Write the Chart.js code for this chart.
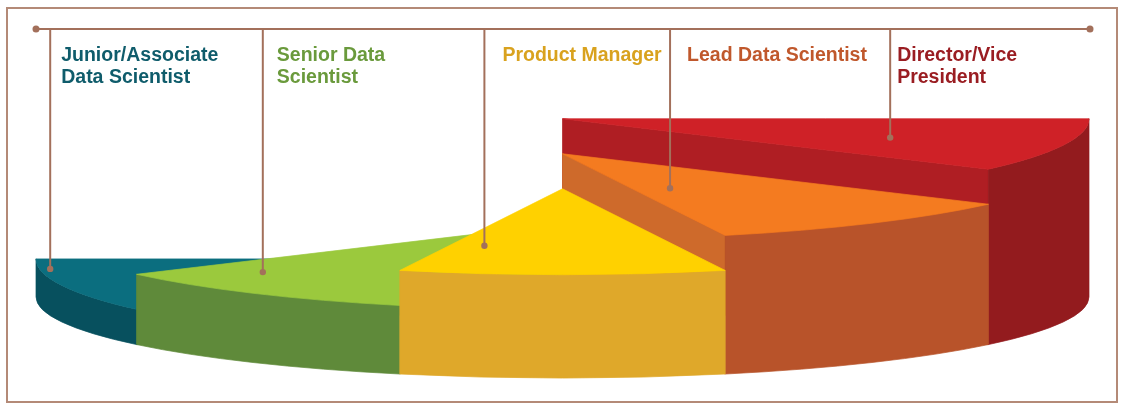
<!DOCTYPE html>
<html>
<head>
<meta charset="utf-8">
<script src="https://cdn.jsdelivr.net/npm/chart.js@4.4.1/dist/chart.umd.min.js"></script>
<style>
  html, body { margin: 0; padding: 0; background: #fff; }
  #wrap { position: relative; width: 1123px; height: 408px; }
  #frame { position: absolute; left: 6px; top: 7px; width: 1112px; height: 396px;
           border: 2px solid #B48A77; box-sizing: border-box; }
  #chart { position: absolute; left: 0; top: 0; }
</style>
</head>
<body>
<div id="wrap">
  <div id="frame"></div>
  <canvas id="chart" width="1123" height="408"></canvas>
</div>
<script>
// ── Data ─────────────────────────────────────────────────────────────
const roles = ['Junior/Associate Data Scientist', 'Senior Data Scientist', 'Product Manager', 'Lead Data Scientist', 'Director/Vice President'];
const labelLines = [['Junior/Associate', 'Data Scientist'], ['Senior Data', 'Scientist'], ['Product Manager'], ['Lead Data Scientist'], ['Director/Vice', 'President']];
const shares = [20, 20, 20, 20, 20];        // equal slices
const levels = [38, 73, 108, 143, 178];     // extrusion height of each slice

// ── Style ────────────────────────────────────────────────────────────
const topColors  = ['#0B6E7F', '#9BC93D', '#FFD100', '#F47B20', '#CF2127'];
const wallColors = ['#07505E', '#5F8A3A', '#DFA82A', '#B8532A', '#931B1E'];
const faceColors = ['#095E6C', '#7FA83A', '#E9B81A', '#CE6A2B', '#AF1E23'];
const textColors = ['#0F5C6B', '#6A9A3C', '#D9A21E', '#C0582C', '#9A1D22'];
const LINE = '#A3705B';

// leader anchor on each top face: t = position across slice, f = radius fraction
const anchors = [{ t: 0.19, f: 0.98 }, { t: 0.24, f: 0.80 }, { t: 0.15, f: 0.68 }, { t: 0.25, f: 0.45 }, { t: 0.46, f: 0.66 }];
const textGap = [11, 14, 18, 17, 7];

let geom = null;

// ── 3D extrusion drawn from the pie's own arc angles ─────────────────
const pie3d = {
  id: 'pie3d',
  afterDatasetsDraw(chart) {
    const { ctx, chartArea: a } = chart;
    const arcs = chart.getDatasetMeta(0).data;
    const cx = (a.left + a.right) / 2, R = (a.right - a.left) / 2;
    const ryB = R * 0.154, ryT = R * 0.163;
    const cyB = a.bottom - ryB;
    const px = R / 526;

    const g = arcs.map((arc, i) => ({ i, p0: -arc.startAngle, p1: -arc.endAngle, top: cyB - levels[i] * px }));
    const dist = s => Math.abs((s.p0 + s.p1) / 2 - Math.PI / 2);
    const order = g.slice().sort((u, v) => dist(v) - dist(u));

    const paint = (col, build) => {
      ctx.beginPath(); build(); ctx.closePath();
      ctx.fillStyle = col; ctx.fill();
      ctx.strokeStyle = col; ctx.lineWidth = 0.7; ctx.stroke();
    };
    const face = (s, p) => paint(faceColors[s.i], () => {
      ctx.moveTo(cx, s.top);
      ctx.lineTo(cx + R * Math.cos(p), s.top + ryT * Math.sin(p));
      ctx.lineTo(cx + R * Math.cos(p), cyB + ryB * Math.sin(p));
      ctx.lineTo(cx, cyB);
    });

    ctx.save();
    order.forEach(s => {
      if (Math.cos(s.p0) > 0.001) face(s, s.p0);
      if (Math.cos(s.p1) < -0.001) face(s, s.p1);
      paint(wallColors[s.i], () => {
        ctx.moveTo(cx + R * Math.cos(s.p1), s.top + ryT * Math.sin(s.p1));
        ctx.ellipse(cx, s.top, R, ryT, 0, s.p1, s.p0, false);
        ctx.lineTo(cx + R * Math.cos(s.p0), cyB + ryB * Math.sin(s.p0));
        ctx.ellipse(cx, cyB, R, ryB, 0, s.p0, s.p1, true);
      });
      paint(topColors[s.i], () => {
        ctx.moveTo(cx, s.top);
        ctx.ellipse(cx, s.top, R, ryT, 0, s.p1, s.p0, false);
      });
    });
    ctx.restore();
    geom = { cx, R, ryT, g };
  },
  afterDraw(chart) {
    if (!geom) return;
    const { ctx, chartArea: a } = chart;
    const { cx, R, ryT, g } = geom;
    const lineY = 29;
    ctx.save();
    ctx.strokeStyle = LINE; ctx.fillStyle = LINE; ctx.lineWidth = 2;
    ctx.beginPath(); ctx.moveTo(a.left, lineY); ctx.lineTo(a.right + 1, lineY); ctx.stroke();
    [a.left, a.right + 1].forEach(x => { ctx.beginPath(); ctx.arc(x, lineY, 3.5, 0, Math.PI * 2); ctx.fill(); });

    g.forEach(s => {
      const an = anchors[s.i];
      const p = s.p0 + an.t * (s.p1 - s.p0);
      const x = cx + an.f * R * Math.cos(p), y = s.top + an.f * ryT * Math.sin(p);
      ctx.strokeStyle = LINE; ctx.fillStyle = LINE;
      ctx.beginPath(); ctx.moveTo(x, lineY); ctx.lineTo(x, y); ctx.stroke();
      ctx.beginPath(); ctx.arc(x, y, 3.2, 0, Math.PI * 2); ctx.fill();

      ctx.fillStyle = textColors[s.i];
      ctx.font = 'bold 19.5px "Liberation Sans", Arial, sans-serif';
      ctx.textBaseline = 'alphabetic';
      labelLines[s.i].forEach((t, k) => ctx.fillText(t, x + textGap[s.i], 61 + k * 21.5));
    });
    ctx.restore();
  }
};

new Chart(document.getElementById('chart'), {
  type: 'pie',
  data: {
    labels: roles,
    datasets: [{ data: shares, backgroundColor: 'rgba(0,0,0,0)', borderWidth: 0 }],
  },
  options: {
    responsive: false,
    animation: false,
    events: [],
    rotation: -90,
    circumference: 180,
    layout: { padding: { left: 36, right: 34, top: 110, bottom: 30 } },
    plugins: { legend: { display: false }, tooltip: { enabled: false } },
  },
  plugins: [pie3d],
});
</script>
</body>
</html>
